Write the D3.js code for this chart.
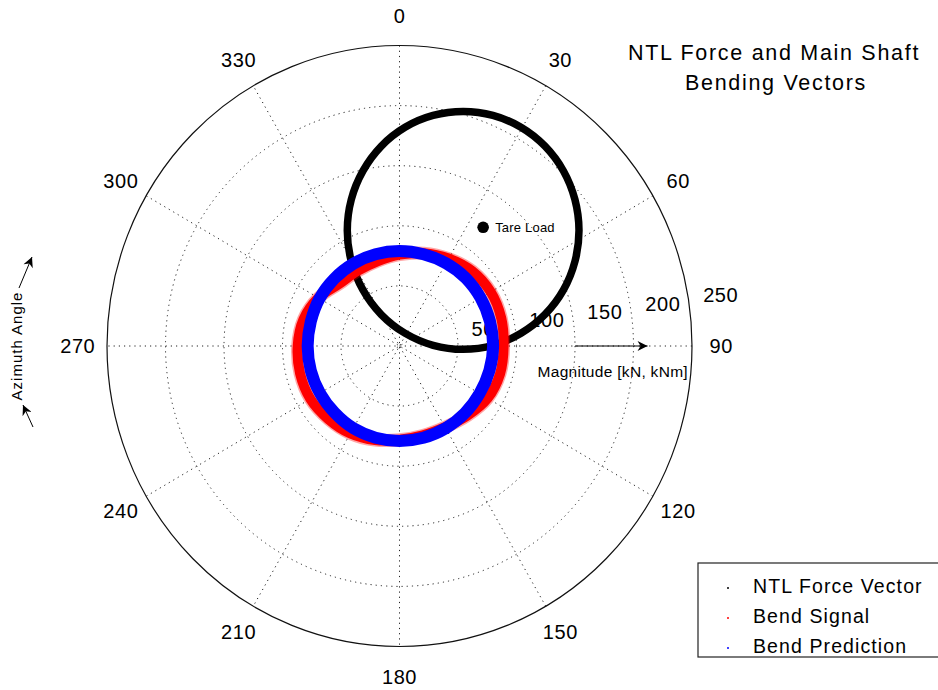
<!DOCTYPE html>
<html>
<head>
<meta charset="utf-8">
<script src="https://cdn.jsdelivr.net/npm/d3@7"></script>
<style>
  html, body { margin: 0; padding: 0; background: #fff; }
  svg { display: block; }
  text { font-family: "Liberation Sans", Arial, Helvetica, sans-serif; fill: #000; }
</style>
</head>
<body>
<svg id="chart" width="938" height="690"></svg>
<script>
// ---- data ----------------------------------------------------------------
const ringTicks = [50, 100, 150, 200, 250];
const angleTicks = [0, 30, 60, 90, 120, 150, 180, 210, 240, 270, 300, 330];

// NTL force vector trace: azimuth [deg, clockwise from north], magnitude [kN]
const ntlAzimuth   = [15.6, 22.6, 29.7, 36.8, 43.9, 50.9, 57.9, 64.8, 71.6, 78.1, 84.2, 89.6,
                      92.9, 88.8, 25.0, 329.2, 326.2, 329.7, 335.1, 341.3, 347.9, 354.6, 1.5, 8.5];
const ntlMagnitude = [202.6, 207.8, 209.5, 207.6, 202.1, 193.2, 181.1, 165.8, 147.7, 127.1, 104.4, 80.0,
                      54.5, 28.8, 11.6, 30.5, 56.2, 81.7, 106.0, 128.6, 149.0, 166.9, 182.0, 193.9];

// Main shaft bending, measured signal and prediction [kNm]
const bendAzimuth = [0, 15, 30, 45, 60, 75, 90, 105, 120, 135, 150, 165,
                     180, 195, 210, 225, 240, 255, 270, 285, 300, 315, 330, 345];
const bendSignalMagnitude = [76, 80, 84, 88, 90, 90, 89, 89, 87, 82, 78, 77,
                             78, 81, 84, 86, 88, 88, 87, 85, 80, 73, 72, 73];
const bendPredMagnitude   = [79, 79, 79.5, 80, 80, 80, 80, 79.5, 79, 79, 79, 79,
                             79, 79, 79, 78.5, 78.5, 78.5, 78.5, 78.5, 79, 79, 79, 79];

// Tare load point
const tareAzimuth = [35.9];
const tareMagnitude = [121.9];

const legendLabels = ["NTL Force Vector", "Bend Signal", "Bend Prediction"];
const seriesColors = ["#000000", "#ff0000", "#0000ff"];

// ---- layout --------------------------------------------------------------
const svg = d3.select("#chart");
const cx = 399.5, cy = 346, RX = 292.5, RY = 300.5;
const rMax = d3.max(ringTicks);

const sx = d3.scaleLinear().domain([-rMax, rMax]).range([cx - RX, cx + RX]);
const sy = d3.scaleLinear().domain([-rMax, rMax]).range([cy + RY, cy - RY]);

// azimuth (clockwise from north) + magnitude -> screen point
function pt(az, mag) {
  const a = az * Math.PI / 180;
  return [sx(mag * Math.sin(a)), sy(mag * Math.cos(a))];
}

// ---- grid ----------------------------------------------------------------
const grid = svg.append("g");

// dotted spokes through the centre every 30 degrees
grid.selectAll("line.spoke")
  .data(angleTicks.filter(a => a < 180))
  .join("line")
  .attr("class", "spoke")
  .attr("x1", a => pt(a, rMax)[0]).attr("y1", a => pt(a, rMax)[1])
  .attr("x2", a => pt(a + 180, rMax)[0]).attr("y2", a => pt(a + 180, rMax)[1])
  .attr("stroke", "#222").attr("stroke-width", 1)
  .attr("stroke-dasharray", "1.2,4");

// dotted magnitude rings
grid.selectAll("ellipse.ring")
  .data(ringTicks.filter(r => r < rMax))
  .join("ellipse")
  .attr("class", "ring")
  .attr("cx", sx(0)).attr("cy", sy(0))
  .attr("rx", r => sx(r) - sx(0)).attr("ry", r => sy(0) - sy(r))
  .attr("fill", "none")
  .attr("stroke", "#222").attr("stroke-width", 1)
  .attr("stroke-dasharray", "1.2,4");

// solid outer ring
grid.append("ellipse")
  .attr("cx", sx(0)).attr("cy", sy(0))
  .attr("rx", sx(rMax) - sx(0)).attr("ry", sy(0) - sy(rMax))
  .attr("fill", "none").attr("stroke", "#111").attr("stroke-width", 1.2);

// azimuth labels
grid.selectAll("text.az")
  .data(angleTicks)
  .join("text")
  .attr("class", "az")
  .attr("x", a => pt(a, rMax * 1.1)[0])
  .attr("y", a => pt(a, rMax * 1.1)[1])
  .attr("dy", "0.36em")
  .attr("text-anchor", "middle")
  .attr("font-size", 20)
  .attr("letter-spacing", 0.6)
  .text(a => a);

// magnitude labels along 82 degrees
grid.selectAll("text.mag")
  .data(ringTicks)
  .join("text")
  .attr("class", "mag")
  .attr("x", r => pt(82, r)[0] + 14)
  .attr("y", r => pt(82, r)[1] - 2)
  .attr("font-size", 20)
  .attr("letter-spacing", 0.6)
  .text(r => r);

// magnitude axis annotation
const defs = svg.append("defs");
defs.append("marker")
  .attr("id", "head")
  .attr("viewBox", "0 0 10 10")
  .attr("refX", 10).attr("refY", 5)
  .attr("markerWidth", 14).attr("markerHeight", 10)
  .attr("markerUnits", "userSpaceOnUse")
  .attr("orient", "auto")
  .append("path").attr("d", "M0,0 L10,5 L0,10 L3,5 Z").attr("fill", "#000");

grid.append("line")
  .attr("x1", sx(150)).attr("y1", sy(0))
  .attr("x2", sx(212)).attr("y2", sy(0))
  .attr("stroke", "#000").attr("stroke-width", 1)
  .attr("marker-end", "url(#head)");

grid.append("text")
  .attr("x", sx(118)).attr("y", sy(0) + 31)
  .attr("font-size", 15.5)
  .attr("letter-spacing", 0.3)
  .text("Magnitude [kN, kNm]");

// azimuth direction annotation on the left
const azNote = svg.append("g");
azNote.append("text")
  .attr("transform", `translate(22,${cy}) rotate(-90)`)
  .attr("text-anchor", "middle")
  .attr("font-size", 15)
  .attr("letter-spacing", 1)
  .text("Azimuth Angle");
azNote.append("line")
  .attr("x1", 19).attr("y1", 288).attr("x2", 32).attr("y2", 257)
  .attr("stroke", "#000").attr("stroke-width", 1)
  .attr("marker-end", "url(#head)");
azNote.append("line")
  .attr("x1", 33).attr("y1", 427).attr("x2", 23).attr("y2", 405)
  .attr("stroke", "#000").attr("stroke-width", 1)
  .attr("marker-end", "url(#head)");

// ---- data traces -----------------------------------------------------------
const ring = d3.line().curve(d3.curveCatmullRomClosed.alpha(0.5));
const traces = svg.append("g");

const ntlPts = ntlAzimuth.map((a, i) => pt(a, ntlMagnitude[i]));
const sigPts = bendAzimuth.map((a, i) => pt(a, bendSignalMagnitude[i]));
const predPts = bendAzimuth.map((a, i) => pt(a, bendPredMagnitude[i]));

traces.append("path").attr("d", ring(ntlPts))
  .attr("fill", "none").attr("stroke", seriesColors[0]).attr("stroke-width", 7.5);

traces.append("path").attr("d", ring(sigPts))
  .attr("fill", "none").attr("stroke", seriesColors[1]).attr("stroke-width", 13)
  .attr("stroke-opacity", 0.35);
traces.append("path").attr("d", ring(sigPts))
  .attr("fill", "none").attr("stroke", seriesColors[1]).attr("stroke-width", 10);

traces.append("path").attr("d", ring(predPts))
  .attr("fill", "none").attr("stroke", seriesColors[2]).attr("stroke-width", 12);

// tare load marker
const tare = svg.append("g");
tare.selectAll("circle")
  .data(tareAzimuth)
  .join("circle")
  .attr("cx", (a, i) => pt(a, tareMagnitude[i])[0])
  .attr("cy", (a, i) => pt(a, tareMagnitude[i])[1])
  .attr("r", 5.8).attr("fill", "#000");
tare.append("text")
  .attr("x", pt(tareAzimuth[0], tareMagnitude[0])[0] + 12)
  .attr("y", pt(tareAzimuth[0], tareMagnitude[0])[1] + 5)
  .attr("font-size", 13)
  .attr("letter-spacing", 0.2)
  .text("Tare Load");

// ---- title ---------------------------------------------------------------
const title = svg.append("text")
  .attr("x", 774).attr("y", 60)
  .attr("text-anchor", "middle")
  .attr("font-size", 21.5)
  .attr("letter-spacing", 1.7);
title.append("tspan").attr("x", 774).attr("dy", 0).text("NTL Force and Main Shaft");
title.append("tspan").attr("x", 776).attr("dy", 30).text("Bending Vectors");

// ---- legend --------------------------------------------------------------
const legend = svg.append("g").attr("transform", "translate(698,563)");
legend.append("rect")
  .attr("x", 0).attr("y", 0).attr("width", 300).attr("height", 94)
  .attr("fill", "#fff").attr("stroke", "#222").attr("stroke-width", 1.2);
const items = legend.selectAll("g.item")
  .data(legendLabels)
  .join("g")
  .attr("class", "item")
  .attr("transform", (d, i) => `translate(0,${30 + i * 30})`);
items.append("circle")
  .attr("cx", 30).attr("cy", -5).attr("r", 1)
  .attr("fill", (d, i) => seriesColors[i]);
items.append("text")
  .attr("x", 55).attr("y", 0)
  .attr("font-size", 19.5)
  .attr("letter-spacing", 1.1)
  .text(d => d);
</script>
</body>
</html>
